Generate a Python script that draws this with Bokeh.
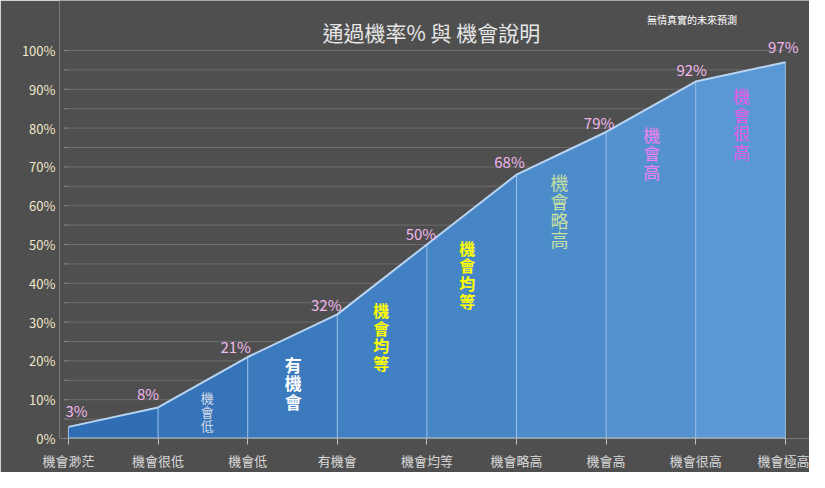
from bokeh.plotting import figure
from bokeh.models import (ColumnDataSource, FixedTicker, NumeralTickFormatter, Range1d)
from bokeh.core.properties import value
from bokeh.embed import file_html
from bokeh.resources import INLINE

categories = ["機會渺茫", "機會很低", "機會低", "有機會", "機會均等", "機會略高", "機會高", "機會很高", "機會極高"]
probabilities = [0.03, 0.08, 0.21, 0.32, 0.50, 0.68, 0.79, 0.92, 0.97]
prob_labels = ["3%", "8%", "21%", "32%", "50%", "68%", "79%", "92%", "97%"]
y_ticks = [0, 0.1, 0.2, 0.3, 0.4, 0.5, 0.6, 0.7, 0.8, 0.9, 1.0]
grid_ticks = [i * 0.05 for i in range(21)]

note_texts = ["機會低", "有機會", "機會均等", "機會均等", "機會略高", "機會高", "機會很高"]
note_x = [1.55, 2.51, 3.49, 4.45, 5.48, 6.51, 7.51]
note_y = [0.070, 0.144, 0.263, 0.423, 0.588, 0.737, 0.812]
note_colors = ["#d4dbe8", "#ffffff", "#ffff00", "#ffff00", "#c6e0a2", "#f37ff0", "#ea5ae8"]
note_sizes = ["13px", "17px", "16px", "16px", "18px", "17px", "17px"]
note_styles = ["normal", "bold", "bold", "bold", "normal", "normal", "normal"]

# label offsets (pixels) relative to each point
lab_dx = [8, -10, -12, -11, -6, -7, -7, -4, -2]
lab_dy = [-16, -14, -11, -10, -11, -13, -9, -12, -16]

FONT = "Noto Sans CJK TC"
BG = "#4f4f4f"

n = len(categories)
xs = list(range(n))
X0 = -0.1  # small room left of the first category for its label

p = figure(width=809, height=472, output_backend="svg", toolbar_location=None,
           x_range=Range1d(X0, 8.27), y_range=Range1d(0, 1.1289),
           min_border_left=59, min_border_right=0, min_border_top=0, min_border_bottom=34)
p.background_fill_color = BG
p.border_fill_color = BG
p.outline_line_color = None

# gridlines only across the category span, plus short tick marks on the left
p.segment(x0=[0] * len(grid_ticks), y0=grid_ticks, x1=[n - 1] * len(grid_ticks), y1=grid_ticks,
          line_color="#6c6c6c", line_width=1)
p.segment(x0=[-0.05] * len(grid_ticks), y0=grid_ticks, x1=[0] * len(grid_ticks), y1=grid_ticks,
          line_color="#8a8a8a", line_width=1)

def lerp(c1, c2, t):
    a = [int(c1[i:i + 2], 16) for i in (1, 3, 5)]
    b = [int(c2[i:i + 2], 16) for i in (1, 3, 5)]
    return "#%02x%02x%02x" % tuple(int(round(a[k] + (b[k] - a[k]) * t)) for k in range(3))

left_c, right_c = "#2c6bb2", "#5c9bd6"
for i in range(n - 1):
    c = lerp(left_c, right_c, (i + 0.5) / (n - 1))
    p.varea(x=[xs[i], xs[i + 1]], y1=[0, 0], y2=[probabilities[i], probabilities[i + 1]],
            fill_color=c, fill_alpha=1.0)

p.segment(x0=xs, y0=[0] * n, x1=xs, y1=probabilities, line_color="#9cc2ea", line_width=1)
p.line(xs, probabilities, line_color="#b8d4f2", line_width=2)
# baseline
p.segment(x0=[0], y0=[0], x1=[n - 1], y1=[0], line_color="#bfbfbf", line_width=2)

src = ColumnDataSource(dict(x=xs, y=probabilities, t=prob_labels, dx=lab_dx, dy=lab_dy))
p.text(x="x", y="y", text="t", source=src, text_align="center", text_baseline="middle",
       x_offset="dx", y_offset="dy", text_color="#f2b8ee", text_font_size="15px",
       text_font=value(FONT))

for t, x, y, c, s, st in zip(note_texts, note_x, note_y, note_colors, note_sizes, note_styles):
    p.text(x=[x], y=[y], text=["\n".join(t)], text_align="center", text_baseline="middle",
           text_color=c, text_font_size=s, text_font_style=st, text_font=value(FONT),
           text_line_height=0.74)

p.text(x=[4.05], y=[1.049], text=["通過機率% 與 機會說明"], text_align="center",
       text_baseline="middle", text_color="#e6e6e6", text_font_size="21px",
       text_font=value(FONT))
p.text(x=[6.96], y=[1.081], text=["無情真實的未來預測"], text_align="center",
       text_baseline="middle", text_color="#ffffff", text_font_size="10px",
       text_font=value(FONT))

p.xaxis.ticker = FixedTicker(ticks=xs)
p.xaxis.major_label_overrides = {i: c for i, c in enumerate(categories)}
p.xaxis.major_label_text_color = "#d9d9d9"
p.xaxis.major_label_text_font = FONT
p.xaxis.major_label_text_font_size = "13px"
p.xaxis.major_label_standoff = 6
p.xaxis.axis_line_color = None
p.xaxis.major_tick_line_color = "#bfbfbf"
p.xaxis.major_tick_out = 6
p.xaxis.major_tick_in = 0
p.xaxis.minor_tick_line_color = None

p.yaxis.ticker = FixedTicker(ticks=y_ticks)
p.yaxis.formatter = NumeralTickFormatter(format="0%")
p.yaxis.major_label_text_color = "#f0e6c8"
p.yaxis.major_label_text_font = FONT
p.yaxis.major_label_text_font_size = "13px"
p.yaxis.axis_line_color = None
p.yaxis.major_tick_line_color = None
p.yaxis.minor_tick_line_color = None
p.yaxis.major_tick_out = 0
p.yaxis.major_tick_in = 0
p.yaxis.minor_tick_out = 0
p.yaxis.minor_tick_in = 0
p.yaxis.major_label_standoff = 4

p.xgrid.grid_line_color = None
p.ygrid.grid_line_color = None

open("out.html", "w").write(file_html(p, INLINE))
